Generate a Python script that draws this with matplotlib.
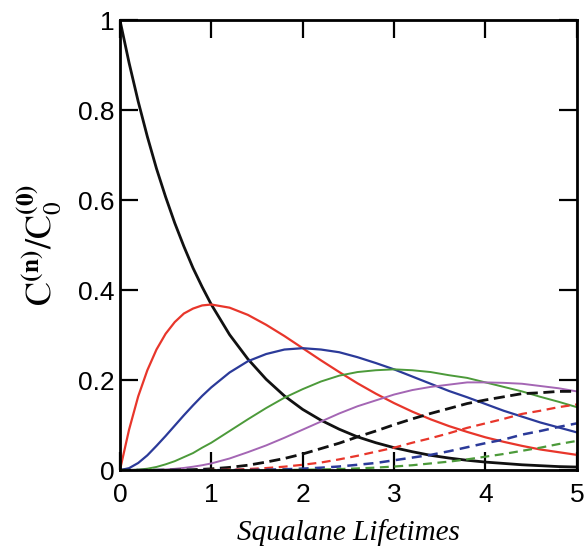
import numpy as np
import matplotlib.pyplot as plt

# Fraction of initial squalane that has reacted n times
t = [0, 0.1, 0.2, 0.3, 0.4, 0.5, 0.6, 0.7, 0.8, 0.9, 1.0,
     1.2, 1.4, 1.6, 1.8, 2.0, 2.2, 2.4, 2.6, 2.8, 3.0,
     3.2, 3.4, 3.6, 3.8, 4.0, 4.2, 4.4, 4.6, 4.8, 5.0]

c0 = [1.0, 0.905, 0.819, 0.741, 0.670, 0.607, 0.549, 0.497, 0.449, 0.407, 0.368,
      0.301, 0.247, 0.202, 0.165, 0.135, 0.111, 0.091, 0.074, 0.061, 0.050,
      0.041, 0.033, 0.027, 0.022, 0.018, 0.015, 0.012, 0.010, 0.008, 0.007]
c1 = [0, 0.090, 0.164, 0.222, 0.268, 0.303, 0.329, 0.348, 0.359, 0.366, 0.368,
      0.361, 0.345, 0.323, 0.298, 0.271, 0.244, 0.218, 0.193, 0.170, 0.149,
      0.130, 0.113, 0.098, 0.085, 0.073, 0.063, 0.054, 0.046, 0.040, 0.034]
c2 = [0, 0.0045, 0.016, 0.033, 0.054, 0.076, 0.099, 0.122, 0.144, 0.165, 0.184,
      0.217, 0.242, 0.258, 0.268, 0.271, 0.268, 0.262, 0.251, 0.238, 0.224,
      0.208, 0.192, 0.176, 0.162, 0.147, 0.132, 0.119, 0.106, 0.095, 0.084]
c3 = [0, 0.0002, 0.0011, 0.0033, 0.0072, 0.013, 0.020, 0.029, 0.038, 0.050, 0.061,
      0.087, 0.113, 0.138, 0.161, 0.180, 0.197, 0.210, 0.218, 0.222, 0.224,
      0.222, 0.218, 0.211, 0.205, 0.195, 0.185, 0.175, 0.163, 0.152, 0.140]
c4 = [0, 0, 0.0001, 0.0002, 0.0007, 0.0016, 0.003, 0.005, 0.0077, 0.011, 0.015,
      0.026, 0.040, 0.055, 0.072, 0.090, 0.108, 0.126, 0.142, 0.155, 0.168,
      0.178, 0.185, 0.190, 0.195, 0.195, 0.194, 0.192, 0.187, 0.182, 0.175]
c5 = [0, 0, 0, 0, 0.0001, 0.0002, 0.0004, 0.0007, 0.0012, 0.002, 0.003,
      0.0062, 0.011, 0.018, 0.026, 0.036, 0.048, 0.060, 0.074, 0.087, 0.101,
      0.114, 0.126, 0.137, 0.148, 0.156, 0.163, 0.170, 0.172, 0.175, 0.175]
c6 = [0, 0, 0, 0, 0, 0, 0, 0.0001, 0.0002, 0.0003, 0.0005,
      0.0012, 0.0026, 0.0047, 0.0078, 0.012, 0.017, 0.024, 0.032, 0.041, 0.050,
      0.061, 0.071, 0.082, 0.094, 0.104, 0.114, 0.125, 0.132, 0.140, 0.146]
c7 = [0, 0, 0, 0, 0, 0, 0, 0, 0, 0, 0.0001,
      0.0002, 0.0005, 0.0011, 0.002, 0.0034, 0.0055, 0.0082, 0.012, 0.016, 0.022,
      0.028, 0.034, 0.042, 0.051, 0.060, 0.068, 0.079, 0.087, 0.096, 0.104]
c8 = [0, 0, 0, 0, 0, 0, 0, 0, 0, 0, 0,
      0, 0, 0.0002, 0.0005, 0.0009, 0.0015, 0.0025, 0.0039, 0.0057, 0.0081,
      0.011, 0.015, 0.019, 0.024, 0.030, 0.036, 0.043, 0.050, 0.058, 0.065]

xticks = [0, 1, 2, 3, 4, 5]
yticks = [0, 0.2, 0.4, 0.6, 0.8, 1]
yticklabels = ['0', '0.2', '0.4', '0.6', '0.8', '1']

plt.rcParams['font.family'] = ['Liberation Sans', 'DejaVu Sans']
plt.rcParams['mathtext.fontset'] = 'stix'

fig = plt.figure(figsize=(5.85, 5.48), dpi=100)
ax = fig.add_axes([0.205, 0.142, 0.781, 0.8215])

ax.plot(t, c0, color='#111111', lw=2.0)
ax.plot(t, c1, color='#e8362b', lw=1.6)
ax.plot(t, c2, color='#2b3a99', lw=1.6)
ax.plot(t, c3, color='#4c9a3a', lw=1.4)
ax.plot(t, c4, color='#a466b4', lw=1.4)
ax.plot(t, c5, color='#111111', lw=2.0, ls=(0, (4, 2)))
ax.plot(t, c6, color='#e8362b', lw=1.6, ls=(0, (4, 2.5)))
ax.plot(t, c7, color='#2b3a99', lw=1.8, ls=(0, (4, 2.5)))
ax.plot(t, c8, color='#4c9a3a', lw=1.6, ls=(0, (4, 2.5)))

ax.set_xlim(0, 5)
ax.set_ylim(0, 1)
ax.set_xticks(xticks)
ax.set_xticklabels([str(v) for v in xticks])
ax.set_yticks(yticks)
ax.set_yticklabels(yticklabels)
ax.tick_params(direction='in', length=13, width=1.6, labelsize=19,
               top=True, right=True)
ax.tick_params(axis='x', pad=9)
ax.tick_params(axis='y', pad=4)
for s in ax.spines.values():
    s.set_linewidth(2)

ax.set_xlabel('Squalane Lifetimes', family='Liberation Serif', style='italic',
              fontsize=21, labelpad=9)
ax.set_ylabel(r'$\mathrm{C}^{\mathbf{(n)}}/\mathrm{C}_{0}^{\mathbf{(0)}}$', fontsize=26)
ax.yaxis.set_label_coords(-0.125, 0.5)

fig.savefig('out.png', dpi=100)
plt.close()
